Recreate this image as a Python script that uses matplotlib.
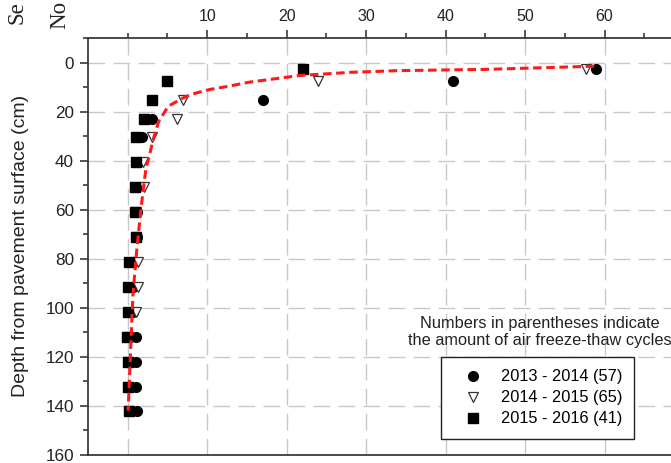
import matplotlib
matplotlib.use("Agg")
import matplotlib.pyplot as plt
from matplotlib.ticker import MultipleLocator, FixedLocator, NullFormatter

plt.rcParams["font.family"] = ["Liberation Sans", "DejaVu Sans"]

# sensor depths (cm)
depths = [2.54, 7.62, 15.24, 22.86, 30.48, 40.64, 50.8, 60.96, 71.12,
          81.28, 91.44, 101.6, 111.76, 121.92, 132.08, 142.24]

# freeze-thaw cycles at each depth, per winter
cycles_2013 = [58.9, 40.9, 17.0, 3.0, 1.8, 1.4, 1.2, 1.2, 1.2,
               0.6, 0.7, 0.6, 1.1, 1.1, 1.1, 1.2]
cycles_2014 = [57.7, 23.9, 7.0, 6.2, 3.0, 1.9, 2.1, 1.0, 1.0,
               1.3, 1.3, 1.1, 0.0, 0.0, 0.0, 0.1]
cycles_2015 = [22.0, 5.0, 3.0, 2.0, 1.0, 1.1, 0.9, 0.9, 1.0,
               0.1, 0.0, 0.0, -0.1, 0.0, 0.0, 0.1]

labels = ["2013 - 2014 (57)", "2014 - 2015 (65)", "2015 - 2016 (41)"]

# fitted trend (cycles vs depth)
fit_cycles = [58.7, 45.0, 34.0, 28.0, 21.6, 15.3, 12.8, 10.3, 9.1, 8.0,
              7.0, 5.1, 3.9, 3.2, 2.7, 2.3, 1.7, 1.1, 0.65, 0.33, 0.05]
fit_depth = [1.5, 2.8, 3.3, 4.0, 5.3, 8.0, 9.6, 11.0, 12.0, 13.0,
             14.4, 17.8, 24.0, 31.4, 38.2, 43.0, 58.6, 77.7, 95.0, 120.0, 142.0]

W, H = 671, 463
fig = plt.figure(figsize=(W / 100, H / 100), dpi=100)
ax = fig.add_axes([88 / W, (H - 455) / H, 596 / W, 417 / H])

spine_col = "#3a3a3a"
grid_kw = dict(color="#c8c8c8", linewidth=1.0, linestyle=(0, (12, 6)), zorder=0)

ax.set_xlim(-5, 70)
ax.set_ylim(160, -10)

ax.xaxis.tick_top()
ax.xaxis.set_major_locator(FixedLocator([10, 20, 30, 40, 50, 60, 70]))
ax.xaxis.set_minor_locator(FixedLocator([0, 5, 15, 25, 35, 45, 55, 65]))
ax.set_xticklabels(["10", "20", "30", "40", "50", "60", ""])
ax.xaxis.set_minor_formatter(NullFormatter())
ax.yaxis.set_minor_locator(MultipleLocator(10))
ax.set_yticks(range(0, 161, 20))

ax.tick_params(which="major", length=6, width=1.2, color=spine_col,
               labelcolor="#222222", pad=4)
ax.tick_params(which="minor", length=3.5, width=1.2, color=spine_col)
ax.tick_params(axis="x", which="both", top=True, bottom=False, labelsize=11.5)
ax.tick_params(axis="y", which="both", left=True, right=False, labelsize=12.3)

for s in ["left", "top", "bottom"]:
    ax.spines[s].set_color(spine_col)
    ax.spines[s].set_linewidth(1.3)
ax.spines["right"].set_visible(False)

ax.grid(True, which="major", **grid_kw)
ax.axvline(0, **grid_kw)

ax.plot(cycles_2013, depths, "o", color="black", markersize=7, label=labels[0], zorder=3)
ax.plot(cycles_2014, depths, "v", markerfacecolor="white", markeredgecolor="#333333",
        markeredgewidth=0.9, markersize=7.5, linestyle="none", label=labels[1], zorder=4)
ax.plot(cycles_2015, depths, "s", color="black", markersize=6.5, label=labels[2], zorder=5)

ax.plot(fit_cycles, fit_depth, color="#ff1a1a", linewidth=2.2,
        linestyle=(0, (2.8, 1.5)), zorder=6)

leg = ax.legend(loc="upper left", bbox_to_anchor=(441 / W, 1 - 357 / H),
                bbox_transform=fig.transFigure, frameon=True, fancybox=False,
                fontsize=11.8, borderpad=0.75, handlelength=2.4, handletextpad=0.5,
                labelspacing=0.37, borderaxespad=0)
leg.get_frame().set_edgecolor("#222222")
leg.get_frame().set_linewidth(1.0)
leg.get_frame().set_alpha(1)
leg.set_zorder(10)

fig.text(540 / W, 1 - 332 / H,
         "Numbers in parentheses indicate\nthe amount of air freeze-thaw cycles",
         ha="center", va="center", fontsize=11.8, color="#222222", linespacing=1.2)

fig.text(21 / W, 1 - 246 / H, "Depth from pavement surface (cm)", rotation=90,
         ha="center", va="center", fontsize=14, color="#222222")

# side labels of the neighbouring panels
fig.text(23 / W, 1 - 24 / H, "Se", rotation=90, rotation_mode="anchor",
         ha="left", va="baseline", fontsize=16.5, family="Liberation Serif", color="#222222")
fig.text(65 / W, 1 - 29 / H, "No", rotation=90, rotation_mode="anchor",
         ha="left", va="baseline", fontsize=16.5, family="Liberation Serif", color="#222222")

fig.savefig("out.png", dpi=100)
